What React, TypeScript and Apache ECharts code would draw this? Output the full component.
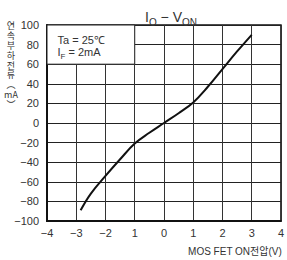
import React, { useEffect, useRef } from "react";
import * as echarts from "echarts";

const xValues = [-2.85, -2.5, -2, -1.5, -1, -0.5, 0, 0.5, 1, 1.5, 2, 2.5, 3];
const yValues = [-89, -72, -54, -37, -21, -10, 0, 10, 21, 37, 55, 73, 90];
const xTickLabels = ["−4", "−3", "−2", "1", "0", "1", "2", "3", "4"];
const yTicks = [-100, -80, -60, -40, -20, 0, 20, 40, 60, 80, 100];
const yNameChars = ["연", "속", "부", "하", "전", "류", "︵", "mA", "︶"];

const FONT = "'Liberation Sans', Arial, sans-serif";
const KR = "'Noto Sans CJK KR', sans-serif";
const TEXT = "#333";

export default function App() {
  const ref = useRef<HTMLDivElement>(null);
  useEffect(() => {
    if (!ref.current) return;
    const chart = echarts.init(ref.current, undefined, { renderer: "svg" });
    const data = xValues.map((x, i) => [x, yValues[i]]);
    chart.setOption({
      animation: false,
      backgroundColor: "#fff",
      title: {
        text: "{b|I}{s|O}{b| − V}{s|ON}",
        left: 166,
        textAlign: "center",
        top: 3,
        textStyle: {
          fontWeight: "normal",
          rich: {
            b: { fontFamily: FONT, fontSize: 14, fontWeight: "normal", color: TEXT, verticalAlign: "bottom", lineHeight: 16 },
            s: { fontFamily: FONT, fontSize: 10, fontWeight: "normal", color: TEXT, verticalAlign: "bottom", lineHeight: 13, padding: [0, 0, -3, 0] },
          },
        },
      },
      grid: { left: 47, right: 6, top: 25, bottom: 39, show: true, borderColor: "#111", borderWidth: 1.5 },
      xAxis: {
        type: "value",
        min: -4,
        max: 4,
        interval: 1,
        axisLine: { show: true, onZero: false, lineStyle: { color: "#111", width: 2 } },
        axisTick: { show: false },
        splitLine: { show: true, lineStyle: { color: "#333", width: 1 } },
        axisLabel: {
          margin: 6,
          fontFamily: FONT,
          fontSize: 11,
          color: TEXT,
          formatter: (v: number) => xTickLabels[Math.round(v) + 4] ?? "",
        },
      },
      yAxis: {
        type: "value",
        min: yTicks[0],
        max: yTicks[yTicks.length - 1],
        interval: 20,
        axisLine: { show: true, onZero: false, lineStyle: { color: "#111", width: 2 } },
        axisTick: { show: false },
        splitLine: { show: true, lineStyle: { color: "#222", width: 1 } },
        axisLabel: {
          margin: 8,
          fontFamily: FONT,
          fontSize: 11,
          color: TEXT,
          formatter: (v: number) => String(v).replace("-", "−"),
        },
      },
      graphic: [
        {
          type: "text",
          x: 11,
          y: 21,
          style: {
            text: yNameChars.join("\n"),
            fontFamily: KR,
            fontSize: 9,
            lineHeight: 9.8,
            fill: TEXT,
            align: "center",
            verticalAlign: "top",
          },
        },
        {
          type: "text",
          right: 5,
          top: 246,
          style: {
            text: "MOS FET ON전압(V)",
            fontFamily: FONT + ", 'Noto Sans CJK KR'",
            fontSize: 10,
            fill: TEXT,
          },
        },
      ],
      series: [
        {
          type: "line",
          data,
          smooth: 0.4,
          showSymbol: false,
          lineStyle: { color: "#111", width: 2 },
          markArea: {
            silent: true,
            itemStyle: { color: "#fff", borderColor: "#222", borderWidth: 1 },
            label: {
              show: true,
              position: [11, 9],
              formatter: "{n|Ta = 25℃}\n{n|I}{s|F}{n| = 2mA}",
              rich: {
                n: { fontFamily: FONT, fontSize: 11, color: TEXT, lineHeight: 12, verticalAlign: "bottom" },
                s: { fontFamily: FONT, fontSize: 8, color: TEXT, lineHeight: 12, verticalAlign: "bottom", padding: [0, 0, -3, 0] },
              },
            },
            data: [[{ coord: [-4, 100] }, { coord: [-1, 60] }]],
          },
        },
      ],
    });
    return () => chart.dispose();
  }, []);
  return <div ref={ref} style={{ width: 287, height: 260, position: "absolute", left: 0, top: 0 }} />;
}
